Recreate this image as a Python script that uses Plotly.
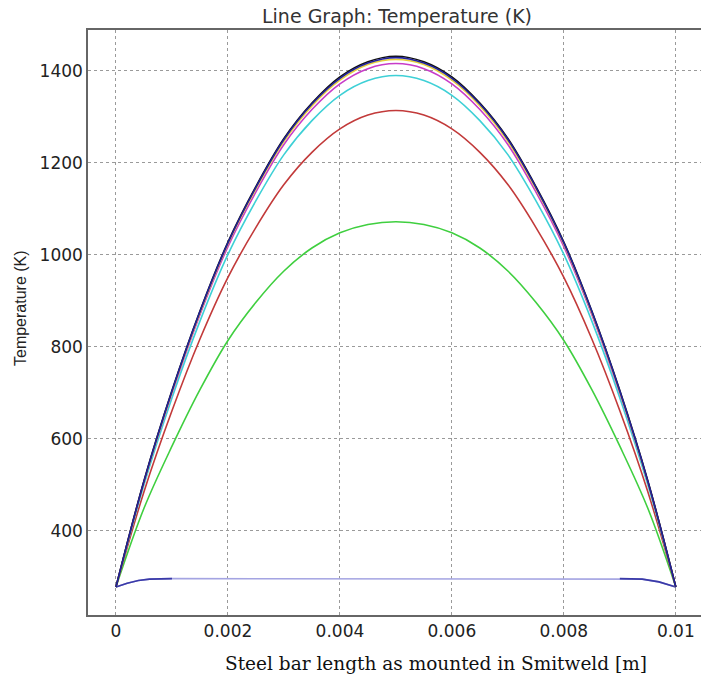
import plotly.graph_objects as go

# positions along the bar [m]
x_pos = [0, 0.0005, 0.001, 0.0015, 0.002, 0.0025, 0.003, 0.0035, 0.004, 0.0045, 0.005,
         0.0055, 0.006, 0.0065, 0.007, 0.0075, 0.008, 0.0085, 0.009, 0.0095, 0.01]

t_black = [278, 509, 705, 878, 1028, 1149, 1253, 1330, 1387, 1420, 1432,
           1420, 1387, 1330, 1253, 1149, 1028, 878, 705, 509, 278]
t_navy = [278, 508, 704, 877, 1026, 1147, 1251, 1328, 1384, 1417, 1429,
          1417, 1384, 1328, 1251, 1147, 1026, 877, 704, 508, 278]
t_yellow = [278, 507, 702, 874, 1024, 1144, 1247, 1324, 1380, 1414, 1425,
            1414, 1380, 1324, 1247, 1144, 1024, 874, 702, 507, 278]
t_magenta = [278, 506, 699, 870, 1018, 1137, 1240, 1316, 1372, 1405, 1416,
             1405, 1372, 1316, 1240, 1137, 1018, 870, 699, 506, 278]
t_cyan = [278, 500, 689, 856, 1001, 1118, 1218, 1292, 1347, 1379, 1390,
          1379, 1347, 1292, 1218, 1118, 1001, 856, 689, 500, 278]
t_red = [278, 485, 661, 817, 951, 1060, 1153, 1223, 1274, 1304, 1314,
         1304, 1274, 1223, 1153, 1060, 951, 817, 661, 485, 278]
t_green = [278, 449, 584, 707, 814, 897, 965, 1015, 1048, 1066, 1072,
           1066, 1048, 1015, 965, 897, 814, 707, 584, 449, 278]

# initial (nearly flat) profile
x_flat = [0, 0.0002, 0.0004, 0.0006, 0.001, 0.002, 0.004, 0.006, 0.008, 0.009, 0.0094, 0.0097, 0.01]
t_flat = [278, 286, 292, 295, 296, 296, 296, 296, 296, 296, 295, 289, 278]
# darker end segments of the initial profile
x_ends = [0, 0.0002, 0.0004, 0.0006, 0.001, None, 0.009, 0.0094, 0.0097, 0.01]
t_ends = [278, 286, 292, 295, 296, None, 296, 295, 289, 278]

x_ticks = [0, 0.002, 0.004, 0.006, 0.008, 0.01]
x_ticktext = ["0", "0.002", "0.004", "0.006", "0.008", "0.01"]
y_ticks = [400, 600, 800, 1000, 1200, 1400]
y_ticktext = ["400", "600", "800", "1000", "1200", "1400"]

fig = go.Figure()
fig.add_trace(go.Scatter(x=x_flat, y=t_flat, mode="lines", line=dict(color="#a4a4e2", width=1.6)))
fig.add_trace(go.Scatter(x=x_ends, y=t_ends, mode="lines", line=dict(color="#3a3aa8", width=1.6)))
series = [
    (t_green, "#3fcf3f"),
    (t_red, "#c23a3a"),
    (t_cyan, "#3ed0d6"),
    (t_magenta, "#c83cc8"),
    (t_yellow, "#e6cf3a"),
    (t_black, "#111111"),
    (t_navy, "#22229a"),
]
for ys, col in series:
    fig.add_trace(go.Scatter(x=x_pos, y=ys, mode="lines", line=dict(color=col, width=1.6, shape="spline")))

fig.update_layout(
    width=701, height=679,
    margin=dict(l=88, r=0, t=30, b=64),
    paper_bgcolor="white", plot_bgcolor="white",
    showlegend=False,
    font=dict(family="DejaVu Sans", color="#222"),
)
fig.update_xaxes(
    range=[-0.0005, 0.01045], tickvals=x_ticks, ticktext=x_ticktext,
    showgrid=True, gridcolor="#9a9a9a", griddash="dot", gridwidth=1,
    showline=True, linecolor="#666", linewidth=1.5, mirror=True,
    ticks="", tickfont=dict(size=17, color="#222", family="DejaVu Sans"), zeroline=False,
)
fig.update_yaxes(
    range=[217, 1489], tickvals=y_ticks, ticktext=y_ticktext,
    showgrid=True, gridcolor="#9a9a9a", griddash="dot", gridwidth=1,
    showline=True, linecolor="#666", linewidth=1.5, mirror=False,
    ticks="", tickfont=dict(size=17, color="#222", family="DejaVu Sans"), zeroline=False,
)
fig.add_annotation(text="Line Graph: Temperature (K)", xref="paper", yref="paper",
                   x=(397 - 88) / (701 - 88), y=1, yanchor="middle", xanchor="center",
                   yshift=14, showarrow=False,
                   font=dict(size=19, color="#333", family="DejaVu Sans"))
fig.add_annotation(text="Temperature (K)", xref="paper", yref="paper",
                   x=0, xshift=-68, xanchor="center", yanchor="middle",
                   y=(615 - 308) / (615 - 30), textangle=-90, showarrow=False,
                   font=dict(size=16, color="#222", family="Liberation Sans Narrow, Liberation Sans, Arial"))
fig.add_annotation(text="Steel bar length as mounted in Smitweld [m]", xref="paper", yref="paper",
                   x=(436 - 88) / (701 - 88), y=0, yanchor="middle", xanchor="center",
                   yshift=-48, showarrow=False,
                   font=dict(size=18.5, color="#111", family="DejaVu Serif, Liberation Serif"))

fig.write_html("out.html")
